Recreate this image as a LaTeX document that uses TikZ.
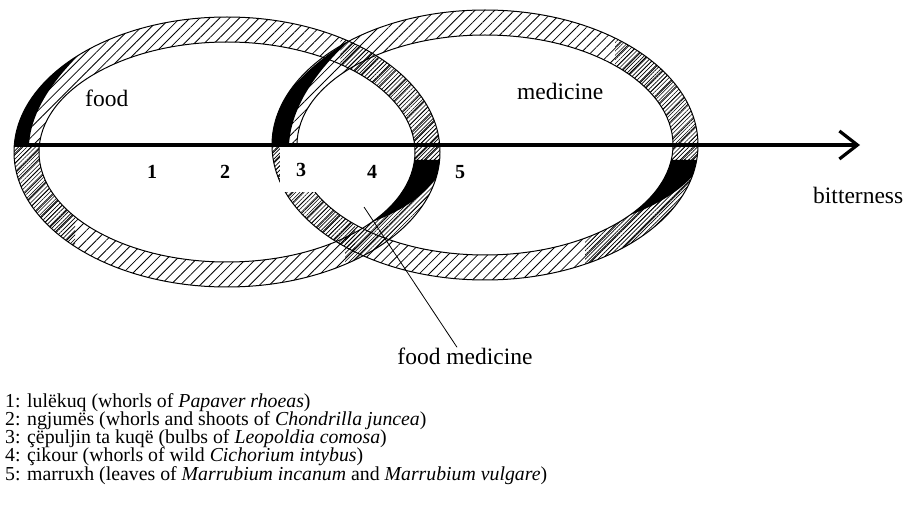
\documentclass[tikz,border=0pt]{standalone}
\usepackage{fontspec}
\setmainfont{Liberation Serif}
\usetikzlibrary{arrows.meta,patterns.meta}

\tikzset{
  sparse/.style={pattern={Lines[angle=45,distance=7pt,line width=0.8pt]}},
  dense/.style={pattern={Lines[angle=45,distance=3pt,line width=0.6pt]}},
  rim/.style={line width=1pt},
  word/.style={font=\fontsize{23.5}{27}\selectfont, inner sep=0pt},
  num/.style={font=\fontsize{20}{24}\selectfont\bfseries, inner sep=0pt},
  key/.style={font=\fontsize{19.8}{22}\selectfont, inner sep=0pt, anchor=base west},
}

\begin{document}
\begin{tikzpicture}[x=1pt,y=-1pt]
    \useasboundingbox (0,0) rectangle (914,505);

    % food ring
    \coordinate (fc) at (227,152);
    \begin{scope}[even odd rule]
        \clip (fc) ellipse [x radius=213,y radius=135] (fc) ellipse [x radius=188,y radius=110];
        \fill[sparse] (0,0) rectangle (460,300);
        \fill[dense] (340,0) rectangle (460,160);
        \fill[dense] (0,145) rectangle (75,300);
        \fill[dense] (345,160) rectangle (460,300);
        \fill (95,40) .. controls (40,80) and (10,110) .. (5,145) -- (29,145) .. controls (31,110) and (55,75) .. (95,40) -- cycle;
        \fill (372,222) .. controls (405,210) and (435,190) .. (445,160) -- (360,160) -- cycle;
    \end{scope}
    \draw[rim] (fc) ellipse [x radius=213,y radius=135] (fc) ellipse [x radius=188,y radius=110];

    % medicine ring
    \coordinate (mc) at (485,145);
    \begin{scope}[even odd rule]
        \clip (mc) ellipse [x radius=213,y radius=135] (mc) ellipse [x radius=188,y radius=110];
        \fill[sparse] (260,0) rectangle (720,300);
        \fill[dense] (615,0) rectangle (720,160);
        \fill[dense] (255,145) rectangle (355,300);
        \fill[dense] (585,160) rectangle (720,300);
        \fill (350,40) .. controls (300,70) and (268,110) .. (263,145) -- (289,145) .. controls (291,110) and (312,75) .. (350,40) -- cycle;
        \fill (630,215) .. controls (663,203) and (693,183) .. (703,160) -- (618,160) -- cycle;
    \end{scope}
    \draw[rim] (mc) ellipse [x radius=213,y radius=135] (mc) ellipse [x radius=188,y radius=110];

    % bitterness axis
    \node[num, fill=white, minimum width=43pt, minimum height=45pt] (n3) at (301,170) {3};
    \coordinate (start) at (14,145);
    \coordinate (tip) at (860,145);
    \draw[line width=3.2pt, -{Straight Barb[length=18pt,width=28pt]}] (start) -- (tip);
    \node[word, anchor=base west] (bitter) at (813,204) {bitterness};

    \node[word, anchor=base west] (food) at (85,107) {food};
    \node[word, anchor=base west] (medicine) at (517,100) {medicine};
    \node[num, anchor=base] (n1) at (152,179) {1};
    \node[num, anchor=base] (n2) at (225,179) {2};
    \node[num, anchor=base] (n4) at (372,179) {4};
    \node[num, anchor=base] (n5) at (460,179) {5};

    \node[word, anchor=base] (fm) at (465,364) {food medicine};
    \coordinate (fmtip) at (364,207);
    \draw[line width=0.8pt] (fmtip) -- ([xshift=-8pt]fm.north);

    % key
    \node[key] (key1) at (5,407) {1: lulëkuq (whorls of \textit{Papaver rhoeas})};
    \node[key] (key2) at (5,425.3) {2: ngjumës (whorls and shoots of \textit{Chondrilla juncea})};
    \node[key] (key3) at (5,443.6) {3: çëpuljin ta kuqë (bulbs of \textit{Leopoldia comosa})};
    \node[key] (key4) at (5,461.9) {4: çikour (whorls of wild \textit{Cichorium intybus})};
    \node[key] (key5) at (5,480.2) {5: marruxh (leaves of \textit{Marrubium incanum} and \textit{Marrubium vulgare})};
\end{tikzpicture}
\end{document}
